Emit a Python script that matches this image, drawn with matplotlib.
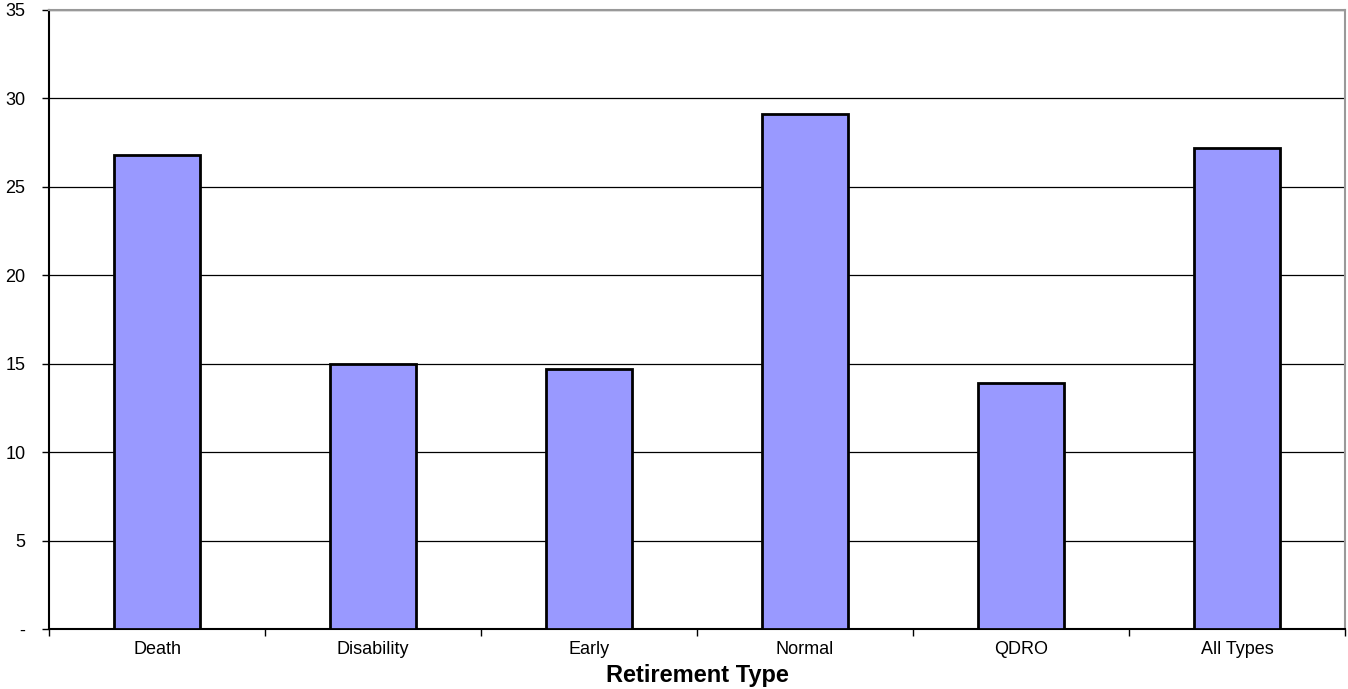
import matplotlib
matplotlib.use("Agg")
import matplotlib.pyplot as plt
import numpy as np

plt.rcParams['font.family'] = ['Liberation Sans', 'DejaVu Sans']

categories = ['Death', 'Disability', 'Early', 'Normal', 'QDRO', 'All Types']
values = [26.8, 15.0, 14.7, 29.1, 13.9, 27.2]
y_ticks = [0, 5, 10, 15, 20, 25, 30, 35]
y_labels = ['-', '5', '10', '15', '20', '25', '30', '35']

fig = plt.figure(figsize=(13.48, 6.89), dpi=100)
ax = fig.add_axes([0.0364, 0.0871, 0.9614, 0.8984])

x = np.arange(len(categories))
ax.bar(x, values, width=0.4, color='#9999ff', edgecolor='black', linewidth=2, zorder=3)

ax.set_xlim(-0.5, len(categories) - 0.5)
ax.set_ylim(0, 35)

# horizontal gridlines every 5
ax.set_yticks(y_ticks)
ax.set_yticklabels(y_labels, fontsize=13)
ax.yaxis.grid(True, color='black', linewidth=0.9, zorder=1)

# category labels centred, ticks on the boundaries
ax.set_xticks(x)
ax.set_xticklabels(categories, fontsize=13)
ax.tick_params(axis='x', length=0, pad=9)
ax.set_xticks(np.arange(len(categories) + 1) - 0.5, minor=True)
ax.tick_params(axis='x', which='minor', length=5, width=1, direction='out')
ax.tick_params(axis='y', length=5, width=1, direction='out', pad=12)

ax.spines['left'].set_color('black')
ax.spines['left'].set_linewidth(1.5)
ax.spines['bottom'].set_color('black')
ax.spines['bottom'].set_linewidth(1.5)
ax.spines['top'].set_color('#999999')
ax.spines['top'].set_linewidth(1.5)
ax.spines['right'].set_color('#999999')
ax.spines['right'].set_linewidth(1.5)

ax.set_xlabel('Retirement Type', fontsize=17, fontweight='bold', labelpad=4)

fig.savefig('out.png', dpi=100)
